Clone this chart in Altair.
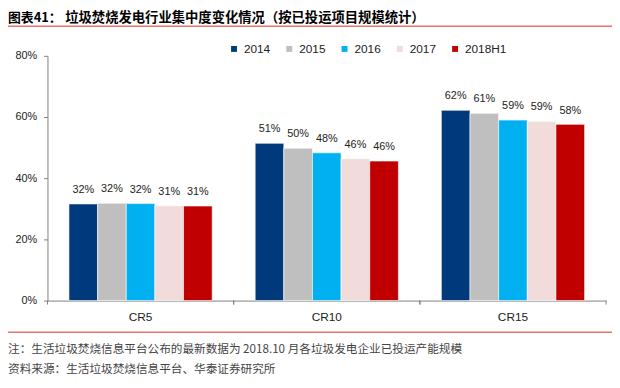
import altair as alt
import pandas as pd

categories = ["CR5", "CR10", "CR15"]
years = ["2014", "2015", "2016", "2017", "2018H1"]
cr5 = [31.6, 31.8, 31.7, 31.0, 30.9]
cr10 = [51.4, 49.8, 48.3, 46.4, 45.6]
cr15 = [62.2, 61.2, 59.0, 58.6, 57.6]
colors = ["#003A7D", "#BFBFBF", "#00B0F0", "#F2DCDB", "#C00000"]
y_ticks = [0, 0.2, 0.4, 0.6, 0.8]

title_prefix = "图表41："
title_main = "垃圾焚烧发电行业集中度变化情况（按已投运项目规模统计）"
note = "注：生活垃圾焚烧信息平台公布的最新数据为 2018.10 月各垃圾发电企业已投运产能规模"
source = "资料来源：生活垃圾焚烧信息平台、华泰证券研究所"

rows = []
for cat, vals in zip(categories, [cr5, cr10, cr15]):
    for yr, v in zip(years, vals):
        rows.append({"cat": cat, "year": yr, "value": v / 100})
df = pd.DataFrame(rows)

W, H = 566, 248
AXIS_GRAY = "#808080"
RED_LINE = "#E8756B"

x_enc = alt.X(
    "cat:N", sort=categories,
    scale=alt.Scale(paddingInner=0, paddingOuter=0),
    axis=alt.Axis(title=None, labelAngle=0, ticks=False, domainColor=AXIS_GRAY,
                  labelFont="Liberation Sans", labelFontSize=12, labelColor="#222",
                  labelPadding=11),
)
xoff = alt.XOffset("year:N", sort=years, scale=alt.Scale(paddingInner=0, paddingOuter=0.75))
y_enc = alt.Y(
    "value:Q",
    scale=alt.Scale(domain=[0, 0.8], nice=False),
    axis=alt.Axis(title=None, values=y_ticks, format=".0%", grid=False, tickSize=4,
                  tickColor=AXIS_GRAY, domainColor=AXIS_GRAY, labelFontSize=11,
                  labelPadding=7, labelFont="Liberation Sans", labelColor="#222"),
)
color = alt.Color(
    "year:N", sort=years,
    scale=alt.Scale(domain=years, range=colors),
    legend=alt.Legend(title=None, orient="none", legendX=183, legendY=-13,
                      direction="horizontal", symbolType="square", symbolSize=36,
                      labelFontSize=12, labelFont="Liberation Sans", labelColor="#222",
                      labelOffset=4, columnPadding=13, symbolStrokeWidth=0),
)

bars = alt.Chart(df).mark_bar(stroke="white", strokeWidth=0.6).encode(
    x=x_enc, xOffset=xoff, y=y_enc, color=color
)
labels = alt.Chart(df).mark_text(
    dy=-11, baseline="alphabetic", fontSize=11, font="Liberation Sans", color="#222"
).encode(
    x=alt.X("cat:N", sort=categories),
    xOffset=alt.XOffset("year:N", sort=years),
    y="value:Q",
    text=alt.Text("value:Q", format=".0%"),
)

tick_df = pd.DataFrame({"cat": categories})
ticks0 = alt.Chart(tick_df).mark_rule(color=AXIS_GRAY).encode(
    x=alt.X("cat:N", sort=categories, bandPosition=0), y=alt.value(H), y2=alt.value(H + 4)
)
ticks1 = alt.Chart(tick_df).mark_rule(color=AXIS_GRAY).encode(
    x=alt.X("cat:N", sort=categories, bandPosition=1), y=alt.value(H), y2=alt.value(H + 4)
)

one = pd.DataFrame({"k": [0]})
top_line = alt.Chart(one).mark_rule(color=RED_LINE, strokeWidth=1.5).encode(
    x=alt.value(-40), x2=alt.value(W + 6), y=alt.value(-30)
)
bottom_line = alt.Chart(one).mark_rule(color=RED_LINE, strokeWidth=1.5).encode(
    x=alt.value(-40), x2=alt.value(W + 6), y=alt.value(280)
)

def txt(s, x, y, size, weight="normal", col="#000"):
    return alt.Chart(pd.DataFrame({"t": [s]})).mark_text(
        align="left", baseline="middle", font="Noto Sans CJK SC",
        fontWeight=weight, fontSize=size, color=col
    ).encode(x=alt.value(x), y=alt.value(y), text="t:N")

t1 = txt(title_prefix, -40, -38, 13, "bold")
t2 = txt(title_main, 18, -38, 13.5, "bold")
n1 = txt(note, -40, 297, 11.8, col="#444")
n2 = txt(source, -40, 317, 11.8, col="#444")

chart = alt.layer(bars, labels, ticks0, ticks1, top_line, bottom_line, t1, t2, n1, n2).properties(
    width=W, height=H,
    padding={"left": 40, "top": 46, "right": 6, "bottom": 78},
    autosize=alt.AutoSizeParams(type="none"),
).configure_view(stroke=None)

chart.save("out.html", embed_options={"renderer": "svg", "actions": False})
